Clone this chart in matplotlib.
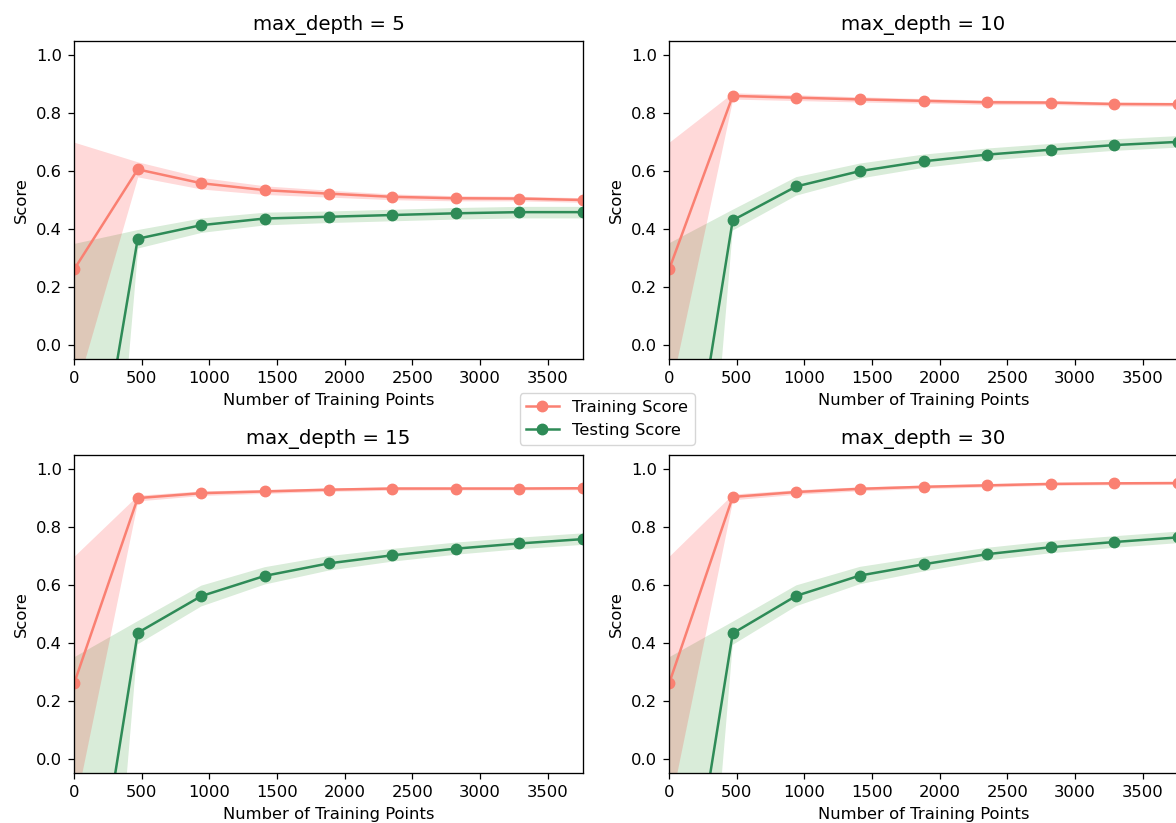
import matplotlib
matplotlib.use("Agg")
import matplotlib.pyplot as plt
import numpy as np

# training set sizes used by the learning curves
sizes = [1, 471, 941, 1411, 1881, 2351, 2821, 3291, 3761]
depths = [5, 10, 15, 30]

# mean / std of scores for each max_depth
train_mean_5 = [0.26, 0.606, 0.558, 0.534, 0.522, 0.511, 0.506, 0.505, 0.500]
train_std_5 = [0.44, 0.026, 0.020, 0.015, 0.012, 0.010, 0.009, 0.008, 0.008]
test_mean_5 = [-0.94, 0.366, 0.413, 0.436, 0.442, 0.448, 0.454, 0.458, 0.458]
test_std_5 = [1.29, 0.032, 0.025, 0.022, 0.020, 0.020, 0.020, 0.020, 0.020]

train_mean_10 = [0.26, 0.860, 0.854, 0.848, 0.843, 0.838, 0.837, 0.832, 0.831]
train_std_10 = [0.44, 0.011, 0.010, 0.009, 0.008, 0.008, 0.007, 0.007, 0.007]
test_mean_10 = [-0.94, 0.430, 0.547, 0.600, 0.634, 0.657, 0.674, 0.690, 0.701]
test_std_10 = [1.29, 0.036, 0.032, 0.026, 0.023, 0.021, 0.020, 0.020, 0.020]

train_mean_15 = [0.26, 0.901, 0.918, 0.924, 0.930, 0.934, 0.934, 0.934, 0.935]
train_std_15 = [0.44, 0.010, 0.008, 0.007, 0.006, 0.006, 0.005, 0.005, 0.005]
test_mean_15 = [-0.94, 0.435, 0.562, 0.632, 0.675, 0.703, 0.726, 0.744, 0.759]
test_std_15 = [1.29, 0.040, 0.036, 0.030, 0.025, 0.022, 0.021, 0.020, 0.020]

train_mean_30 = [0.26, 0.905, 0.922, 0.933, 0.940, 0.945, 0.950, 0.952, 0.953]
train_std_30 = [0.44, 0.010, 0.008, 0.007, 0.006, 0.006, 0.005, 0.005, 0.005]
test_mean_30 = [-0.94, 0.433, 0.563, 0.633, 0.672, 0.707, 0.731, 0.749, 0.765]
test_std_30 = [1.29, 0.040, 0.036, 0.030, 0.025, 0.022, 0.021, 0.020, 0.020]

train_means = [train_mean_5, train_mean_10, train_mean_15, train_mean_30]
train_stds = [train_std_5, train_std_10, train_std_15, train_std_30]
test_means = [test_mean_5, test_mean_10, test_mean_15, test_mean_30]
test_stds = [test_std_5, test_std_10, test_std_15, test_std_30]

W, H = 1176, 823
fig = plt.figure(figsize=(W / 100, H / 100), dpi=100)
plt.rcParams['font.size'] = 11.8

# axes boxes in pixels: (left, top)
boxes = [(74, 41), (669, 41), (74, 455), (669, 455)]
aw, ah = 509, 318

x = np.array(sizes)
for k, depth in enumerate(depths):
    left, top = boxes[k]
    ax = fig.add_axes([left / W, (H - top - ah) / H, aw / W, ah / H])
    tr_m = np.array(train_means[k])
    tr_s = np.array(train_stds[k])
    te_m = np.array(test_means[k])
    te_s = np.array(test_stds[k])

    ax.fill_between(x, te_m - te_s, te_m + te_s, alpha=0.15, color='g', lw=0)
    ax.fill_between(x, tr_m - tr_s, tr_m + tr_s, alpha=0.15, color='r', lw=0)
    ax.plot(x, tr_m, 'o-', color='#FA8072', lw=1.8, ms=7.5, label='Training Score')
    ax.plot(x, te_m, 'o-', color='#2E8B57', lw=1.8, ms=7.5, label='Testing Score')

    ax.set_title('max_depth = %d' % depth, fontsize=14.2, pad=8)
    ax.set_xlabel('Number of Training Points', fontsize=11.8, labelpad=5)
    ax.set_ylabel('Score', fontsize=11.8, labelpad=5)
    ax.set_xlim(0, 3762)
    ax.set_ylim(-0.05, 1.05)
    ax.set_xticks(np.arange(0, 3501, 500))
    ax.set_yticks(np.arange(0, 1.01, 0.2))
    ax.tick_params(labelsize=11.8, length=4.2, width=0.9, pad=4.5)
    for sp in ax.spines.values():
        sp.set_linewidth(0.95)

handles, labels = ax.get_legend_handles_labels()
fig.legend(handles, labels, loc='center', bbox_to_anchor=(607 / W, 1 - 419 / H),
           fontsize=11.8, borderaxespad=0)

fig.savefig('out.png', dpi=100)
